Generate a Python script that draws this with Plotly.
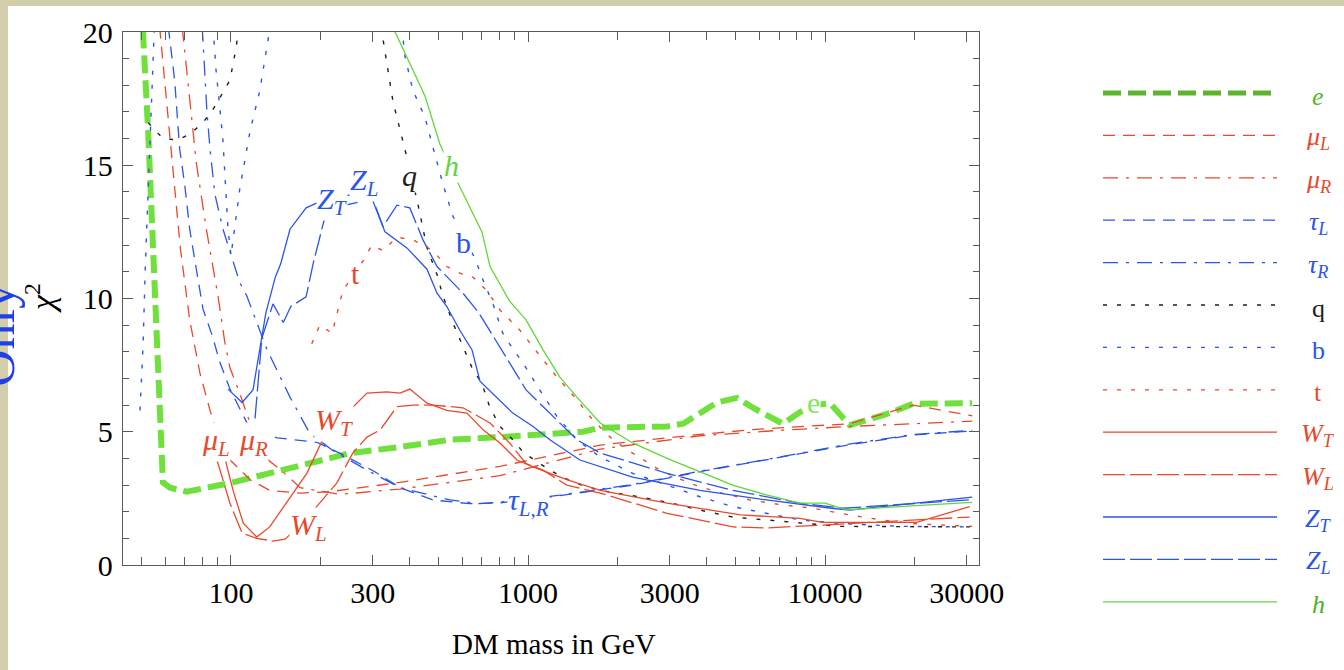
import plotly.graph_objects as go

# ---------------- data (DM mass in GeV, chi^2) ----------------
e_mass = [50.3, 50.7, 52.6, 54.4, 56.1, 57.7, 59.0, 62.3, 71.1, 101.6, 171, 252, 371, 546, 805, 1530, 1750, 2940, 3330, 4330, 5060, 5720, 7220, 8240, 9250, 10400, 12100, 16500, 19800, 31300]
e_chi2 = [21.0, 19.7, 16.3, 12.6, 8.3, 6.2, 3.1, 2.9, 2.75, 3.1, 3.7, 4.2, 4.43, 4.7, 4.8, 5.0, 5.15, 5.2, 5.3, 6.1, 6.27, 5.9, 5.3, 5.74, 6.0, 6.07, 5.25, 5.7, 6.05, 6.07]

muL_mass = [57.5, 62.6, 67.5, 72.6, 78.6, 85, 94, 116, 135, 171, 215, 371, 805, 1750, 3790, 6000, 10600, 12100, 19800, 31300]
muL_chi2 = [20.2, 15.9, 11.9, 9.2, 7.2, 5.8, 4.2, 3.2, 2.8, 2.7, 2.75, 3.1, 3.7, 4.5, 4.9, 5.1, 5.25, 5.3, 6.0, 5.6]

muR_mass = [68.5, 72.6, 76.4, 82.6, 90.4, 95.2, 99.2, 107, 114, 128, 146, 171, 233, 371, 805, 1750, 3790, 6960, 12100, 19800, 31300]
muR_chi2 = [20.2, 17.6, 15.1, 12.6, 10.1, 8.4, 7.4, 6.45, 5.55, 4.1, 3.6, 2.9, 2.65, 2.85, 3.35, 4.35, 4.85, 5.05, 5.2, 5.3, 5.4]

tauL_mass = [61.5, 64.6, 67.2, 69.8, 72.6, 76.4, 80.5, 86.5, 91.8, 99.2, 107, 116, 143, 195, 242, 305, 371, 478, 637, 805, 1280, 2250, 3790, 6350, 11500, 19800, 31300]
tauL_chi2 = [20.2, 18.2, 15.6, 14.3, 12.6, 11.1, 9.6, 8.6, 7.6, 6.6, 5.9, 5.1, 4.77, 4.6, 4.1, 3.5, 2.9, 2.44, 2.3, 2.33, 2.6, 3.0, 3.5, 3.94, 4.47, 4.88, 5.03]

tauR_mass = [80.0, 83, 85, 88.3, 94, 100, 107, 113, 132, 158, 184, 220, 287, 371, 546, 689, 805, 1280, 2250, 3790, 6350, 11500, 19800, 31300]
tauR_chi2 = [20.2, 17.0, 15.6, 13.9, 12.6, 11.6, 10.6, 10.1, 8.1, 6.3, 4.95, 4.3, 3.56, 2.9, 2.44, 2.3, 2.36, 2.62, 3.02, 3.52, 3.96, 4.5, 4.9, 5.05]

q_mass = [52.6, 59, 66.3, 73.3, 80.5, 87, 92.5, 99.2, 101.6, 104, 106.4, None,
          320, 351, 385, 423, 457, 494, 517, 558, 604, 648, 700, 745, 805, 889, 969, 1185, 1420, 1750, 2250, 2940, 3790, 4890, 6350, 8240, 11240, 29000, 31300]
q_chi2 = [16.6, 16.0, 15.95, 16.2, 16.6, 17.1, 17.6, 18.2, 18.8, 19.4, 20.2, None,
          20.2, 17.4, 15.6, 13.7, 11.9, 10.9, 10.1, 9.1, 8.2, 7.4, 6.8, 5.9, 5.2, 4.7, 4.2, 3.56, 3.1, 2.8, 2.6, 2.36, 2.06, 1.8, 1.69, 1.58, 1.45, 1.43, 1.43]

b_mass = [49.4, 50.6, 51.5, 52.6, 53.9, 55.2, None,
          87, 89, 92, 94, 97.7, 100, 107, 116, 125, 135.5, None,
          376, 385, 410, 450, 478, 517, 558, 663, 705, 762, 822, 867, 985, 1095, 1253, 1461, 1750, 2250, 2940, 3790, 4890, 6350, 8240, 11240, 17900, 31300]
b_chi2 = [5.8, 8.3, 11.3, 13.8, 17.2, 20.2, None,
          20.2, 18.6, 17.0, 15.9, 12.6, 11.6, 14.1, 16.3, 17.8, 20.2, None,
          20.2, 19.1, 17.8, 16.8, 15.7, 14.3, 13.1, 11.5, 10.7, 9.8, 8.7, 8.3, 7.4, 6.57, 5.57, 4.7, 4.05, 3.44, 3.0, 2.56, 2.19, 1.94, 1.69, 1.56, 1.45, 1.43]

t_mass = [187, 199, 219, 238, 278, 298, 325, 362, 410, 478, 533, 590, 653, 726, 805, 850, 941, 1124, 1253, 1461, 1650, 1930, 2250, 2780, 3500, 4330, 5600, 7220, 9100, 12100, 15300, 19800, 31300]
t_chi2 = [8.3, 9.0, 8.7, 10.3, 11.4, 12.0, 11.8, 12.3, 12.2, 11.8, 11.2, 10.95, 10.8, 10.3, 9.57, 9.3, 8.8, 7.7, 7.05, 6.2, 5.45, 4.7, 4.2, 3.56, 3.07, 2.74, 2.44, 2.25, 2.13, 1.88, 1.7, 1.55, 1.45]

WT_mass = [93.3, 101.6, 110, 122, 135, 158, 180, 207, 240, 272, 287, 335, 371, 400, 457, 533, 623, 706, 805, 918, 1040, 1350, 1750, 2940, 5200, 8240, 9800, 20300, 30700]
WT_chi2 = [4.43, 2.8, 1.57, 1.05, 1.43, 2.55, 3.44, 4.88, 5.6, 6.2, 6.45, 6.5, 6.45, 6.6, 6.07, 5.8, 5.7, 5.07, 4.58, 3.94, 3.68, 3.2, 2.8, 2.32, 1.88, 1.75, 1.6, 1.6, 2.19]

WL_mass = [89.7, 99.2, 109, 122, 138.5, 152, 175, 199, 227, 257, 287, 318, 362, 410, 478, 604, 745, 867, 985, 1124, 1350, 1750, 2940, 4890, 6350, 9800, 30700]
WL_chi2 = [3.94, 2.32, 1.2, 1.0, 0.9, 0.97, 1.6, 2.32, 3.07, 4.2, 4.8, 5.07, 5.94, 6.0, 6.0, 5.9, 5.33, 4.58, 3.8, 3.56, 3.0, 2.7, 1.94, 1.43, 1.39, 1.5, 1.8]

ZT_mass = [97.7, 109, 118.6, 125, 131, 141, 147, 158, 179, 215, 262, 290, 330, 391, 457, 494, 533, 590, 648, 689, 784, 889, 1040, 1185, 1495, 2250, 3790, 6350, 10500, 12100, 31300]
ZT_chi2 = [6.6, 6.1, 6.57, 8.07, 9.45, 10.8, 11.3, 12.6, 13.4, 13.8, 13.9, 14.1, 12.5, 11.9, 11.1, 10.2, 9.7, 8.8, 8.07, 6.9, 6.3, 5.7, 5.2, 4.7, 3.94, 3.3, 2.8, 2.44, 2.13, 2.06, 2.55]

ZL_mass = [120.5, 127, 138.5, 150, 159, 179, 189, 207, 242, 265, 294, 325, 362, 400, 443, 494, 604, 679, 772, 985, 1461, 1750, 2940, 4890, 8240, 11500, 31300]
ZL_chi2 = [5.5, 8.5, 9.8, 9.1, 9.7, 10.06, 11.3, 13.05, 13.5, 13.6, 14.0, 12.7, 13.5, 13.4, 12.2, 11.2, 10.2, 9.5, 8.5, 6.57, 4.7, 4.2, 3.44, 2.8, 2.32, 2.13, 2.45]

h_mass = [350, 357, 450, 505, 577, 700, 745, 867, 985, 1124, 1280, 1461, 1750, 2250, 2940, 3790, 4890, 6350, 8240, 10000, 11800, 29000, 31300]
h_chi2 = [20.3, 20.0, 17.6, 15.8, 14.4, 12.5, 11.2, 9.9, 9.2, 8.07, 7.05, 6.3, 5.33, 4.58, 4.0, 3.5, 3.0, 2.63, 2.32, 2.32, 2.07, 2.33, 2.35]

x_tick_vals = [100, 300, 1000, 3000, 10000, 30000]
x_tick_text = ["100", "300", "1000", "3000", "10000", "30000"]
x_minor_vals = [50, 60, 70, 80, 90, 200, 400, 500, 600, 700, 800, 900, 2000, 4000, 5000, 6000, 7000, 8000, 9000, 20000]
y_tick_vals = [0, 5, 10, 15, 20]

legend_labels = ["<i>e</i>", "<i>μ</i><sub><i>L</i></sub>", "<i>μ</i><sub><i>R</i></sub>",
                 "<i>τ</i><sub><i>L</i></sub>", "<i>τ</i><sub><i>R</i></sub>", "q", "b", "t",
                 "<i>W</i><sub><i>T</i></sub>", "<i>W</i><sub><i>L</i></sub>",
                 "<i>Z</i><sub><i>T</i></sub>", "<i>Z</i><sub><i>L</i></sub>", "<i>h</i>"]

# ---------------- styles ----------------
RED = "#e8492c"
BLUE = "#2b55e6"
GREEN = "#70e03c"
HGREEN = "#62d63a"
LGREEN = "#5cb52e"
BLACK = "#1e1e1e"
DASH = "12px,8px"
DASHDOT = "15px,8px,3px,8px"
DOT = "4px,10px"
LONG = "22px,5px"

series = [
    (e_mass, e_chi2, GREEN, 6, "18px,7px"),
    (muL_mass, muL_chi2, RED, 1.3, DASH),
    (muR_mass, muR_chi2, RED, 1.3, DASHDOT),
    (tauL_mass, tauL_chi2, BLUE, 1.3, DASH),
    (tauR_mass, tauR_chi2, BLUE, 1.3, DASHDOT),
    (q_mass, q_chi2, BLACK, 1.4, DOT),
    (b_mass, b_chi2, BLUE, 1.4, DOT),
    (t_mass, t_chi2, RED, 1.4, DOT),
    (WT_mass, WT_chi2, RED, 1.3, "solid"),
    (WL_mass, WL_chi2, RED, 1.3, LONG),
    (ZT_mass, ZT_chi2, BLUE, 1.3, "solid"),
    (ZL_mass, ZL_chi2, BLUE, 1.3, LONG),
    (h_mass, h_chi2, HGREEN, 1.3, "solid"),
]
legend_colors = [LGREEN, RED, RED, BLUE, BLUE, BLACK, BLUE, RED, RED, RED, BLUE, BLUE, HGREEN]
label_colors = [LGREEN, RED, RED, BLUE, BLUE, BLACK, BLUE, RED, RED, RED, BLUE, BLUE, "#4fae2a"]

# plot area in pixels
L, R, T, B = 123, 979, 32, 565
W, H = 1344, 670


def px(xp):
    return (xp - L) / (R - L)


def py(yp):
    return (B - yp) / (B - T)


fig = go.Figure()
for m, c, col, w, d in series:
    fig.add_trace(go.Scatter(x=m, y=c, mode="lines", line=dict(color=col, width=w, dash=d),
                             showlegend=False, hoverinfo="skip", connectgaps=False))

shapes = []
annotations = []

# background strips (slide texture)
shapes.append(dict(type="rect", xref="paper", yref="paper", x0=px(0), x1=px(8), y0=py(670), y1=py(0),
                   fillcolor="#d2cdab", line=dict(width=0), layer="below"))
shapes.append(dict(type="rect", xref="paper", yref="paper", x0=px(0), x1=px(1344), y0=py(6), y1=py(0),
                   fillcolor="#d2cdab", line=dict(width=0), layer="below"))

# legend
row_y0 = 93
row_dy = 42.4
for i, (s, lab) in enumerate(zip(series, legend_labels)):
    yy = row_y0 + i * row_dy
    col = legend_colors[i]
    w = 5 if i == 0 else 1.3
    shapes.append(dict(type="line", xref="paper", yref="paper", x0=px(1103), x1=px(1277),
                       y0=py(yy), y1=py(yy), line=dict(color=col, width=w, dash=s[4])))
    annotations.append(dict(xref="paper", yref="paper", x=px(1318), y=py(yy + 3), text=lab,
                            showarrow=False, font=dict(family="Liberation Serif", size=26, color=label_colors[i]),
                            xanchor="center", yanchor="middle"))

# in-plot labels (with white background as in the original)
inplot = [
    ("<i>Z</i><sub><i>T</i></sub>", 332, 201, BLUE),
    ("<i>Z</i><sub><i>L</i></sub>", 364, 182, BLUE),
    ("<i>q</i>", 409, 176, BLACK),
    ("<i>h</i>", 451, 165, HGREEN),
    ("b", 463, 243, BLUE),
    ("t", 355, 273, RED),
    ("<i>μ</i><sub><i>L</i></sub>", 216, 442, RED),
    ("<i>μ</i><sub><i>R</i></sub>", 253, 442, RED),
    ("<i>W</i><sub><i>T</i></sub>", 334, 422, RED),
    ("<i>W</i><sub><i>L</i></sub>", 308, 527, RED),
    ("<i>τ</i><sub><i>L,R</i></sub>", 528, 502, BLUE),
    ("e", 813, 402, "#7ee85a"),
]
for txt, xx, yy, col in inplot:
    annotations.append(dict(xref="paper", yref="paper", x=px(xx), y=py(yy), text=txt, showarrow=False,
                            font=dict(family="Liberation Serif", size=30, color=col),
                            bgcolor="white", borderpad=0, xanchor="center", yanchor="middle"))

# axis titles
annotations.append(dict(xref="paper", yref="paper", x=px(554), y=py(644), text="DM mass in GeV",
                        showarrow=False, font=dict(family="Liberation Serif", size=29, color="black"),
                        xanchor="center", yanchor="middle"))
annotations.append(dict(xref="paper", yref="paper", x=px(40), y=py(298), text="<i>χ</i><sup>2</sup>",
                        showarrow=False, textangle=-90,
                        font=dict(family="Liberation Serif", size=34, color="black"),
                        xanchor="center", yanchor="middle"))
# partially visible slide text on the left edge
annotations.append(dict(xref="paper", yref="paper", x=px(-4), y=py(335), text="Only",
                        showarrow=False, textangle=-90,
                        font=dict(family="Liberation Serif", size=52, color="#1f3fe8"),
                        xanchor="center", yanchor="middle"))

axis_common = dict(showline=True, linecolor="#5a5a5a", linewidth=1.3, mirror="ticks", ticks="inside",
                   tickcolor="#5a5a5a", tickwidth=1.2, showgrid=False, zeroline=False,
                   tickfont=dict(family="Liberation Serif", size=30, color="black"))

fig.update_layout(
    width=W, height=H,
    margin=dict(l=L, r=W - R, t=T, b=H - B, pad=0),
    paper_bgcolor="white", plot_bgcolor="white",
    xaxis=dict(type="log", range=[1.6364, 4.5185], tickmode="array", tickvals=x_tick_vals,
               ticktext=x_tick_text, ticklen=10, ticklabelstandoff=1,
               minor=dict(tickmode="array", tickvals=x_minor_vals, ticks="inside", ticklen=8,
                          tickcolor="#5a5a5a", tickwidth=1.1, showgrid=False),
               **axis_common),
    yaxis=dict(range=[0, 20], tickmode="array", tickvals=y_tick_vals, ticklen=10, ticklabelstandoff=3,
               minor=dict(dtick=1, ticks="inside", ticklen=6, tickcolor="#5a5a5a", tickwidth=1.1,
                          showgrid=False),
               **axis_common),
    shapes=shapes,
    annotations=annotations,
    showlegend=False,
)

fig.write_html("out.html")
